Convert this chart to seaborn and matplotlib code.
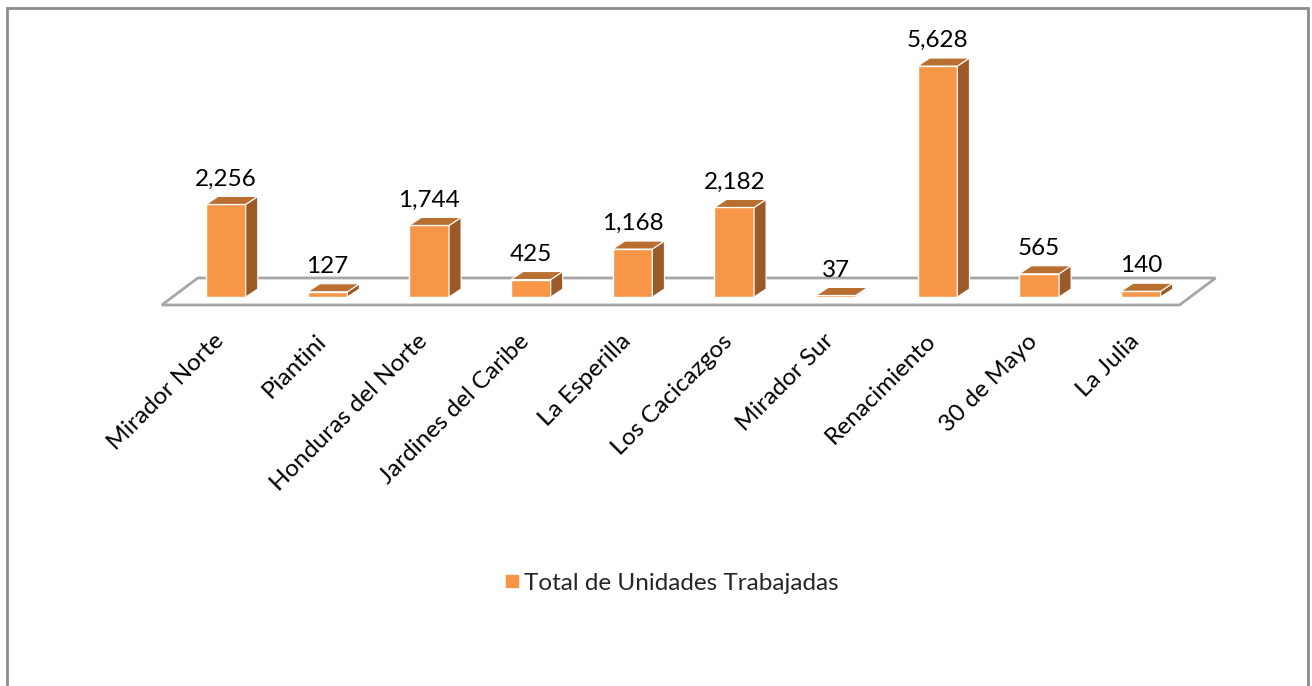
import matplotlib
matplotlib.use("Agg")
import matplotlib.pyplot as plt
from matplotlib.patches import Polygon, Rectangle
from matplotlib.lines import Line2D
import seaborn as sns
import pandas as pd

# --- data ---
sectores = ["Mirador Norte", "Piantini", "Honduras del Norte", "Jardines del Caribe",
            "La Esperilla", "Los Cacicazgos", "Mirador Sur", "Renacimiento",
            "30 de Mayo", "La Julia"]
unidades = [2256, 127, 1744, 425, 1168, 2182, 37, 5628, 565, 140]
serie = "Total de Unidades Trabajadas"

# --- style ---
FRONT = "#F79646"
TOP = "#B96F30"
SIDE = "#9B5A27"
FLOOR_EDGE = "#A6A6A6"
FONT_SIZE = 17.5
DEPTH_PX = (12, 8)        # 3D depth of each bar, in pixels
FLOOR_DEPTH_PX = (36, 27)

sns.set_theme(style="white")
plt.rcParams["font.family"] = ["Lato", "DejaVu Sans"]

df = pd.DataFrame({"sector": sectores, "unidades": unidades})

fig = plt.figure(figsize=(13.12, 6.86), dpi=100)
ax = fig.add_axes([0.0947, 0.5312, 0.8524, 0.4307])

# pixel -> data conversion (axes spans x -1..10, y -600..6600)
px_x = ax.bbox.width / 11
px_y = ax.bbox.height / 7200
ddx, ddy = DEPTH_PX[0] / px_x, DEPTH_PX[1] / px_y
fdx, fdy = FLOOR_DEPTH_PX[0] / px_x, FLOOR_DEPTH_PX[1] / px_y

# floor
fy = -8 / px_y
fx0, fx1 = -0.63, 9.38
floor = Polygon([(fx0, fy), (fx1, fy), (fx1 + fdx, fy + fdy), (fx0 + fdx, fy + fdy)],
                closed=True, facecolor="white", edgecolor=FLOOR_EDGE, lw=2, zorder=0)
ax.add_patch(floor)

sns.barplot(data=df, x="sector", y="unidades", color=FRONT, width=0.39,
            edgecolor="white", linewidth=1, saturation=1, ax=ax, zorder=2)
ax.set_xlim(-1, 10)
ax.set_ylim(-600, 6600)
ax.set_axis_off()

bars = [p for p in ax.patches if p is not floor]
for i, p in enumerate(bars):
    x0 = p.get_x()
    x1 = x0 + p.get_width()
    h = p.get_height()
    top = Polygon([(x0, h), (x1, h), (x1 + ddx, h + ddy), (x0 + ddx, h + ddy)],
                  closed=True, facecolor=TOP, edgecolor="white", lw=0.8, zorder=3)
    side = Polygon([(x1, 0), (x1, h), (x1 + ddx, h + ddy), (x1 + ddx, ddy)],
                   closed=True, facecolor=SIDE, edgecolor="white", lw=0.8, zorder=3)
    ax.add_patch(side)
    ax.add_patch(top)
    ax.annotate(f"{unidades[i]:,}", ((x0 + x1) / 2, h + ddy),
                xytext=(0, 5), textcoords="offset points",
                ha="center", va="bottom", fontsize=FONT_SIZE, color="black")

# category labels
for i, name in enumerate(sectores):
    ax.annotate(name, (i, 0), xytext=(-9, -24), textcoords="offset points",
                rotation=45, ha="right", va="top", rotation_mode="anchor",
                fontsize=FONT_SIZE, color="black")

# legend
handle = Line2D([], [], marker="s", color="none", markerfacecolor=FRONT,
                markeredgecolor=FRONT, markersize=9)
fig.legend([handle], [serie], loc="center", bbox_to_anchor=(671 / 1312, 1 - 583 / 686),
           frameon=False, fontsize=FONT_SIZE, handlelength=0.7, handletextpad=0.15)

# outer frame
fig.patches.append(Rectangle((6.5 / 1312, -0.1), (1308 - 6.5) / 1312, 1.1 - 8 / 686,
                             transform=fig.transFigure, fill=False,
                             edgecolor="#8C8C8C", lw=2))

fig.savefig("out.png", dpi=100, facecolor="white")
